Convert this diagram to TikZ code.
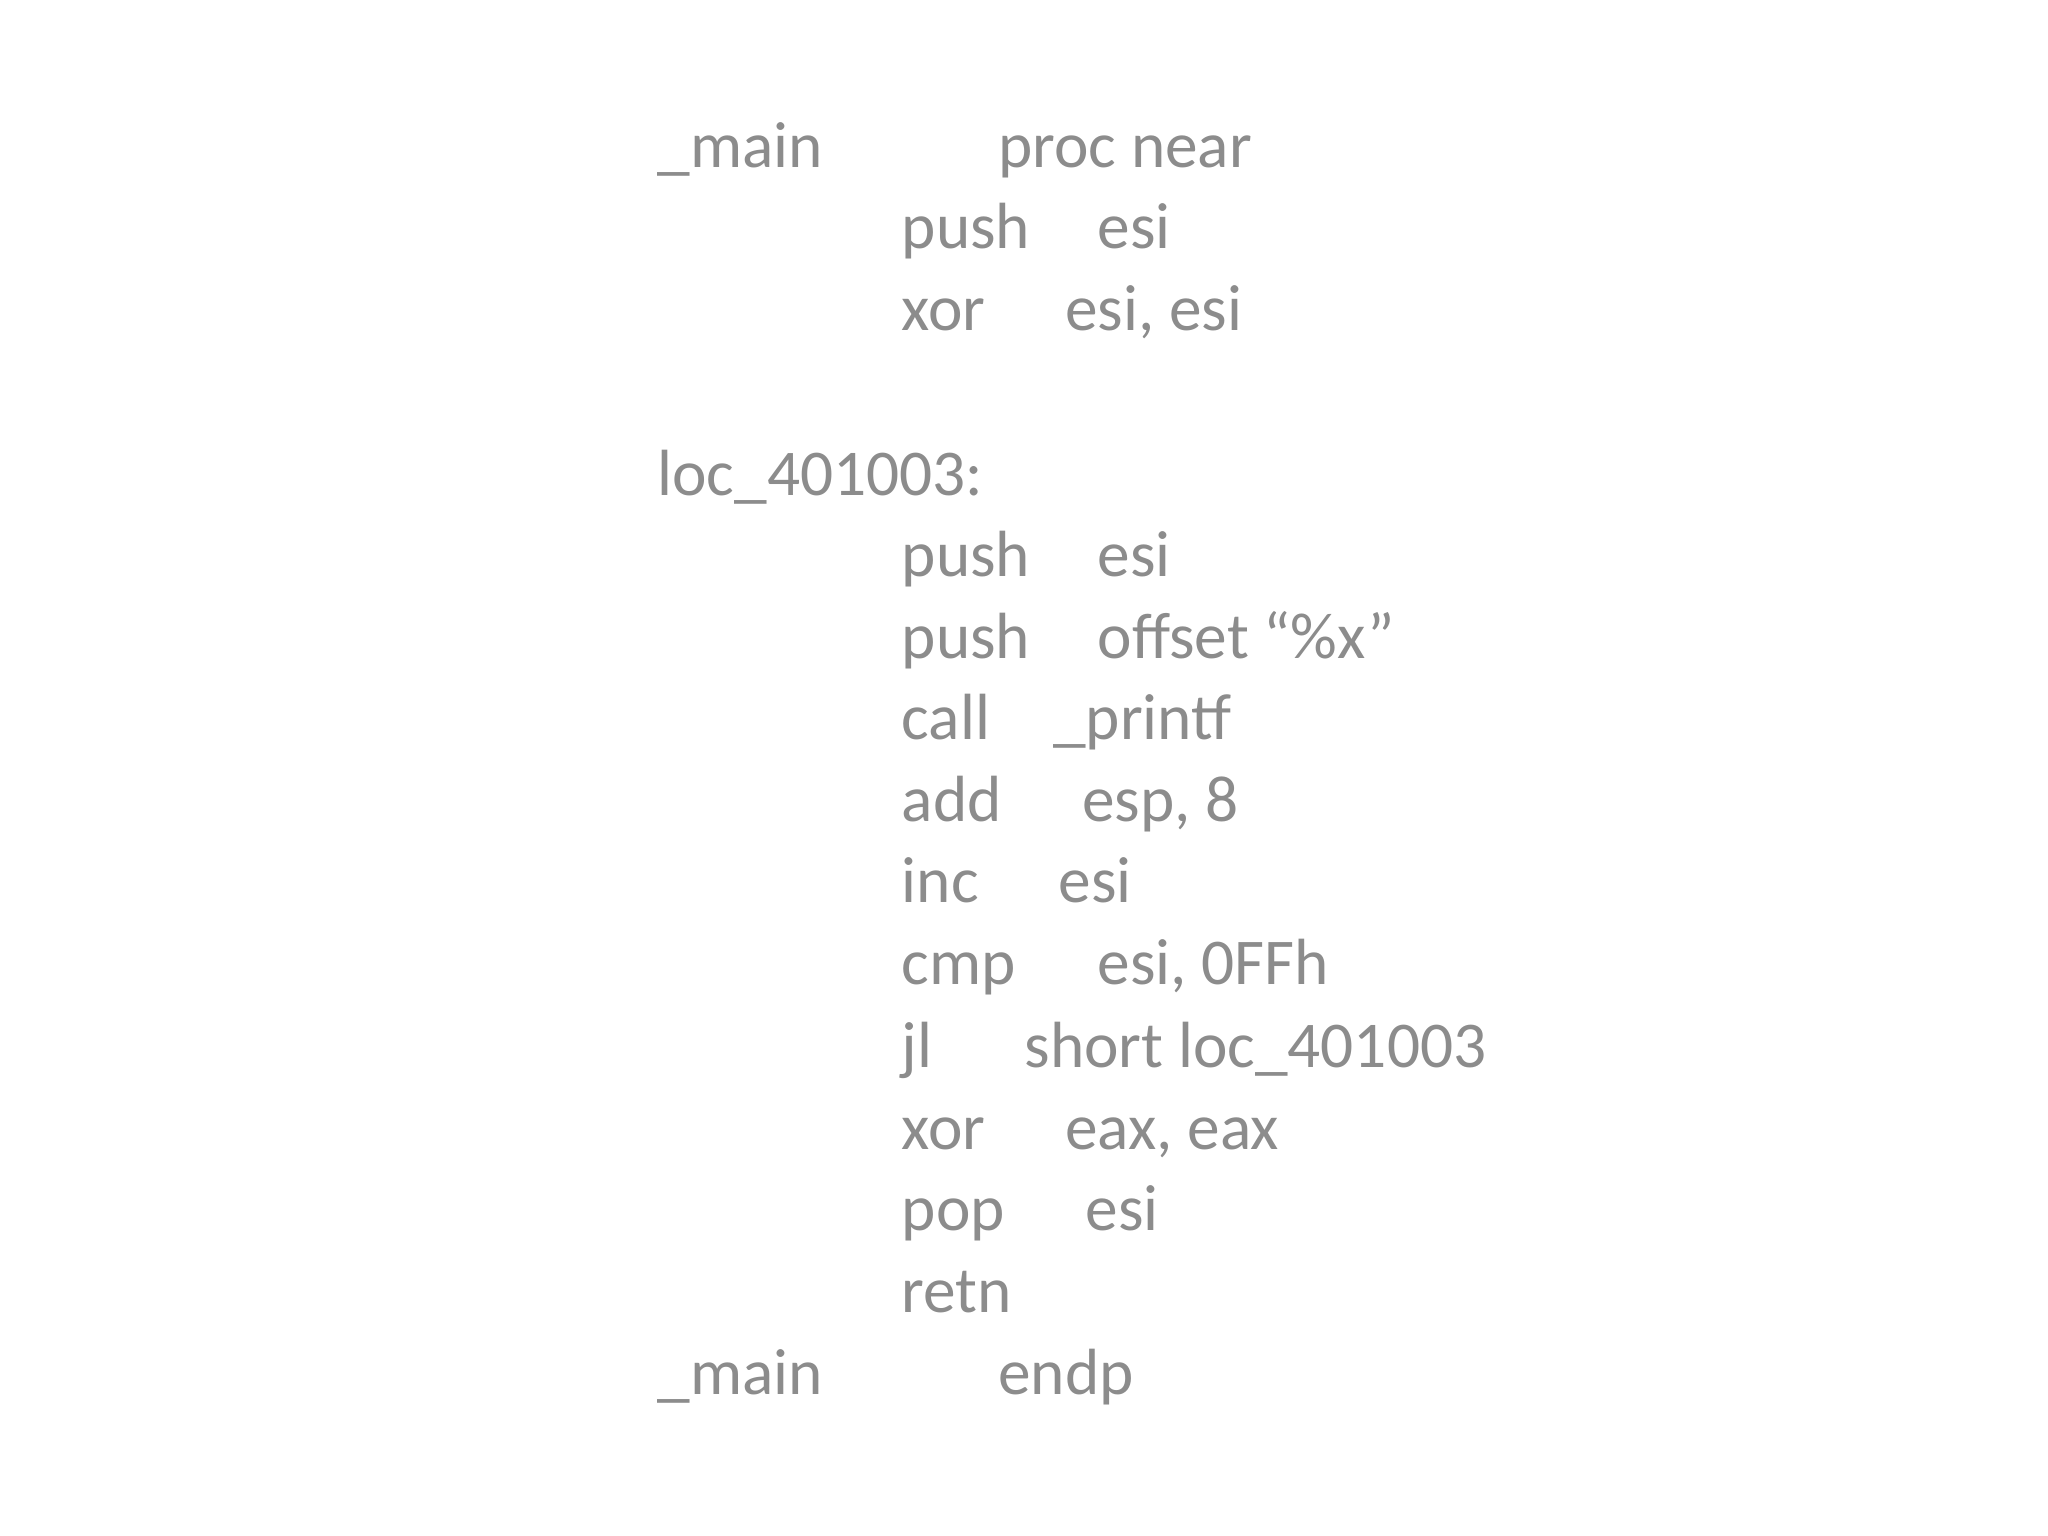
\documentclass[tikz,border=0pt]{standalone}
\usepackage{fontspec}
\setmainfont{Carlito}
\definecolor{codegray}{HTML}{8C8C8C}
\begin{document}
\begin{tikzpicture}[x=0.5pt,y=-0.5pt,
  code/.style={anchor=base west,inner sep=0pt,text=codegray,font=\fontsize{25}{30}\selectfont}]
\useasboundingbox (0,0) rectangle (1568,1176);
\def\b#1{#1+13}
\node[code] (l1a) at (503,128) {\_main};
\node[code] (l1b) at (764,128) {proc near};
\node[code] (l2a) at (690,190) {push};
\node[code] (l2b) at (840,190) {esi};
\node[code] (l3a) at (690,253) {xor};
\node[code] (l3b) at (815,253) {esi, esi};
\node[code] (l4) at (503,379) {loc\_401003:};
\node[code] (l5a) at (690,441) {push};
\node[code] (l5b) at (840,441) {esi};
\node[code] (l6a) at (690,504) {push};
\node[code] (l6b) at (840,504) {offset “\%x"};
\node[code] (l7a) at (690,566) {call};
\node[code] (l7b) at (806,566) {\_printf};
\node[code] (l8a) at (690,629) {add};
\node[code] (l8b) at (828,629) {esp, 8};
\node[code] (l9a) at (690,691) {inc};
\node[code] (l9b) at (810,691) {esi};
\node[code] (l10a) at (690,754) {cmp};
\node[code] (l10b) at (840,754) {esi, 0FFh};
\node[code] (l11a) at (690,817) {jl};
\node[code] (l11b) at (784,817) {short loc\_401003};
\node[code] (l12a) at (690,880) {xor};
\node[code] (l12b) at (815,880) {eax, eax};
\node[code] (l13a) at (690,942) {pop};
\node[code] (l13b) at (831,942) {esi};
\node[code] (l14) at (690,1005) {retn};
\node[code] (l15a) at (503,1068) {\_main};
\node[code] (l15b) at (764,1068) {endp};
\end{tikzpicture}
\end{document}
